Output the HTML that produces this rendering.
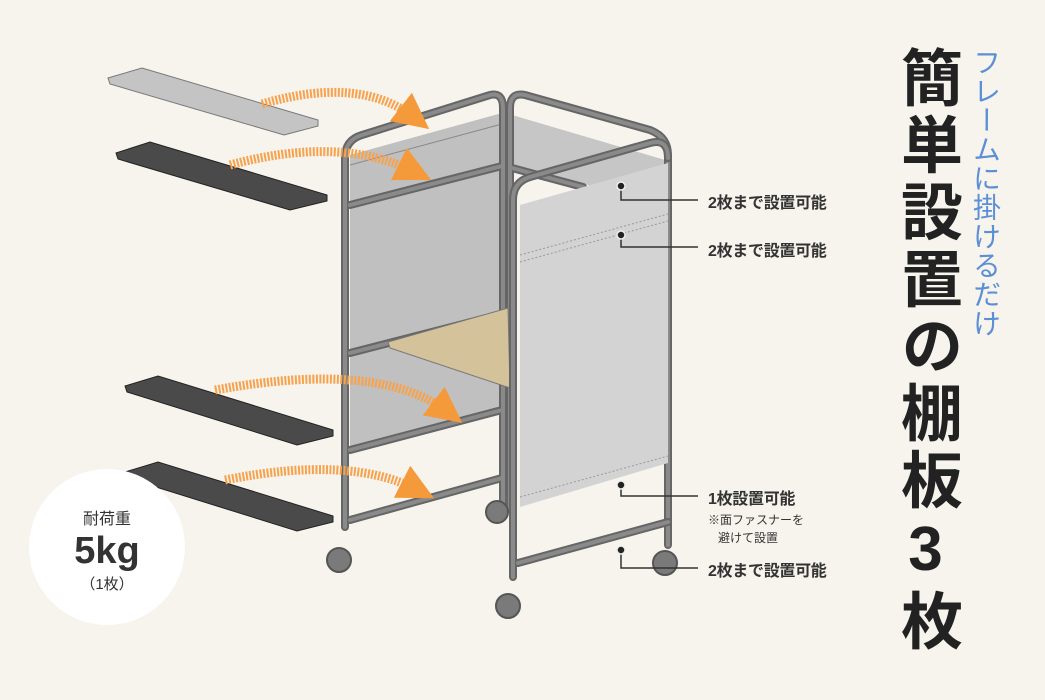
<!DOCTYPE html>
<html><head><meta charset="utf-8"><style>
html,body{margin:0;padding:0;background:#f7f4ee;}
#c{position:relative;width:1045px;height:700px;overflow:hidden;font-family:"Liberation Sans","Noto Sans CJK JP",sans-serif;}
.v{position:absolute;writing-mode:vertical-rl;text-orientation:upright;white-space:nowrap;}
.lb{position:absolute;font-size:16px;font-weight:bold;color:#333;white-space:nowrap;letter-spacing:-0.3px}
</style></head><body><div id="c">
<svg width="1045" height="700" style="position:absolute;left:0;top:0">
<defs><marker id="ah" viewBox="0 0 10 10" refX="5" refY="5" markerWidth="4" markerHeight="4" orient="auto"><path d="M0,0L10,5L0,10z" fill="#f59a3a"/></marker></defs>
<polygon points="350,155 502,113 502,407 350,447" fill="#c0c0c0"/>
<polygon points="512,115 665,160 665,200 512,170" fill="#c6c6c6"/>
<line x1="350" y1="165" x2="502" y2="124" stroke="#888" stroke-width="1"/>
<g fill="none" stroke-linecap="round" stroke-linejoin="round">
<g stroke="#666" stroke-width="8">
<path d="M345,527 V158 Q345,140 362,135 L490,95 Q503,92 503,108 V510"/>
<path d="M510,508 V108 Q510,92 525,95 L650,130 Q668,137 668,155 V545"/>
<line x1="350" y1="205" x2="502" y2="166"/><line x1="350" y1="353" x2="502" y2="314"/>
<line x1="350" y1="450" x2="502" y2="410"/><line x1="350" y1="520" x2="502" y2="478"/>
<line x1="512" y1="168" x2="583" y2="187"/>
</g>
<g stroke="#8a8a8a" stroke-width="4">
<path d="M345,527 V158 Q345,140 362,135 L490,95 Q503,92 503,108 V510"/>
<path d="M510,508 V108 Q510,92 525,95 L650,130 Q668,137 668,155 V545"/>
<line x1="350" y1="205" x2="502" y2="166"/><line x1="350" y1="353" x2="502" y2="314"/>
<line x1="350" y1="450" x2="502" y2="410"/><line x1="350" y1="520" x2="502" y2="478"/>
<line x1="512" y1="168" x2="583" y2="187"/>
</g></g>
<polygon points="388,342 508,308 510,388 390,348" fill="#d4c29a" stroke="#777" stroke-width="1"/>
<polygon points="520,205 668,163 668,463 520,507" fill="#d3d3d3"/>
<line x1="520" y1="255" x2="668" y2="214" stroke="#999" stroke-dasharray="2 2"/>
<line x1="520" y1="262" x2="668" y2="221" stroke="#999" stroke-dasharray="2 2"/>
<line x1="520" y1="497" x2="668" y2="456" stroke="#999" stroke-dasharray="2 2"/>
<g fill="none" stroke-linecap="round" stroke-linejoin="round">
<path d="M513,577 V200 Q513,182 530,177 L650,143 Q668,138 668,158" stroke="#666" stroke-width="8"/>
<line x1="518" y1="563" x2="668" y2="522" stroke="#666" stroke-width="8"/>
<path d="M513,577 V200 Q513,182 530,177 L650,143 Q668,138 668,158" stroke="#8a8a8a" stroke-width="4"/>
<line x1="518" y1="563" x2="668" y2="522" stroke="#8a8a8a" stroke-width="4"/>
</g>
<g fill="#7a7a7a" stroke="#555" stroke-width="2">
<circle cx="339" cy="560" r="12"/><circle cx="497" cy="512" r="11"/><circle cx="508" cy="606" r="12"/><circle cx="665" cy="563" r="12"/>
</g>
<polygon points="108,78 142,68 318,120 318,126 284,135 110,84" fill="#c4c4c4" stroke="#777" stroke-width="1"/>
<polygon points="116,153 150,142 327,195 327,201 290,210 118,159" fill="#4a4a4a" stroke="#222" stroke-width="1"/>
<polygon points="125,386 158,376 333,430 333,436 297,445 127,392" fill="#4a4a4a" stroke="#222" stroke-width="1"/>
<polygon points="125,472 158,462 333,516 333,522 297,531 127,478" fill="#4a4a4a" stroke="#222" stroke-width="1"/>
<g fill="none" stroke="#f7a24d" stroke-width="9" stroke-dasharray="2 1.5">
<path d="M262,104 Q360,75 415,118" marker-end="url(#ah)"/>
<path d="M230,165 Q340,135 415,172" marker-end="url(#ah)"/>
<path d="M215,390 Q380,360 448,412" marker-end="url(#ah)"/>
<path d="M225,480 Q350,455 418,490" marker-end="url(#ah)"/>
</g>
<g stroke="#333" stroke-width="1.5" fill="none">
<path d="M621,186 V200 H698"/><path d="M621,235 V247 H698"/><path d="M621,485 V496 H698"/><path d="M621,550 V568 H698"/>
</g>
<g fill="#222" stroke="#eee" stroke-width="1.5">
<circle cx="621" cy="186" r="4"/><circle cx="621" cy="235" r="4"/><circle cx="621" cy="485" r="4"/><circle cx="621" cy="550" r="4"/>
</g>
<circle cx="107" cy="547" r="78" fill="#fff"/>
</svg>
<div style="position:absolute;left:29px;top:505px;width:156px;text-align:center;color:#333">
<div style="font-size:16px">耐荷重</div>
<div style="font-size:38px;font-weight:bold;line-height:44px">5kg</div>
<div style="font-size:15px">（1枚）</div>
</div>
<div class="lb" style="left:708px;top:189px">2枚まで設置可能</div>
<div class="lb" style="left:708px;top:237px">2枚まで設置可能</div>
<div class="lb" style="left:708px;top:485px">1枚設置可能</div>
<div style="position:absolute;left:708px;top:511px;font-size:12px;color:#333;line-height:18px">※面ファスナーを<br>&nbsp;&nbsp;&nbsp;避けて設置</div>
<div class="lb" style="left:708px;top:557px">2枚まで設置可能</div>
<div class="v" style="left:890px;top:46px;font-size:62px;font-weight:bold;color:#222;line-height:70px;letter-spacing:5px">簡単設置の棚板3枚</div>
<div class="v" style="left:968px;top:48px;font-size:28px;color:#5b8fd6;line-height:34px;letter-spacing:1px">フレームに掛けるだけ</div>
</div></body></html>
